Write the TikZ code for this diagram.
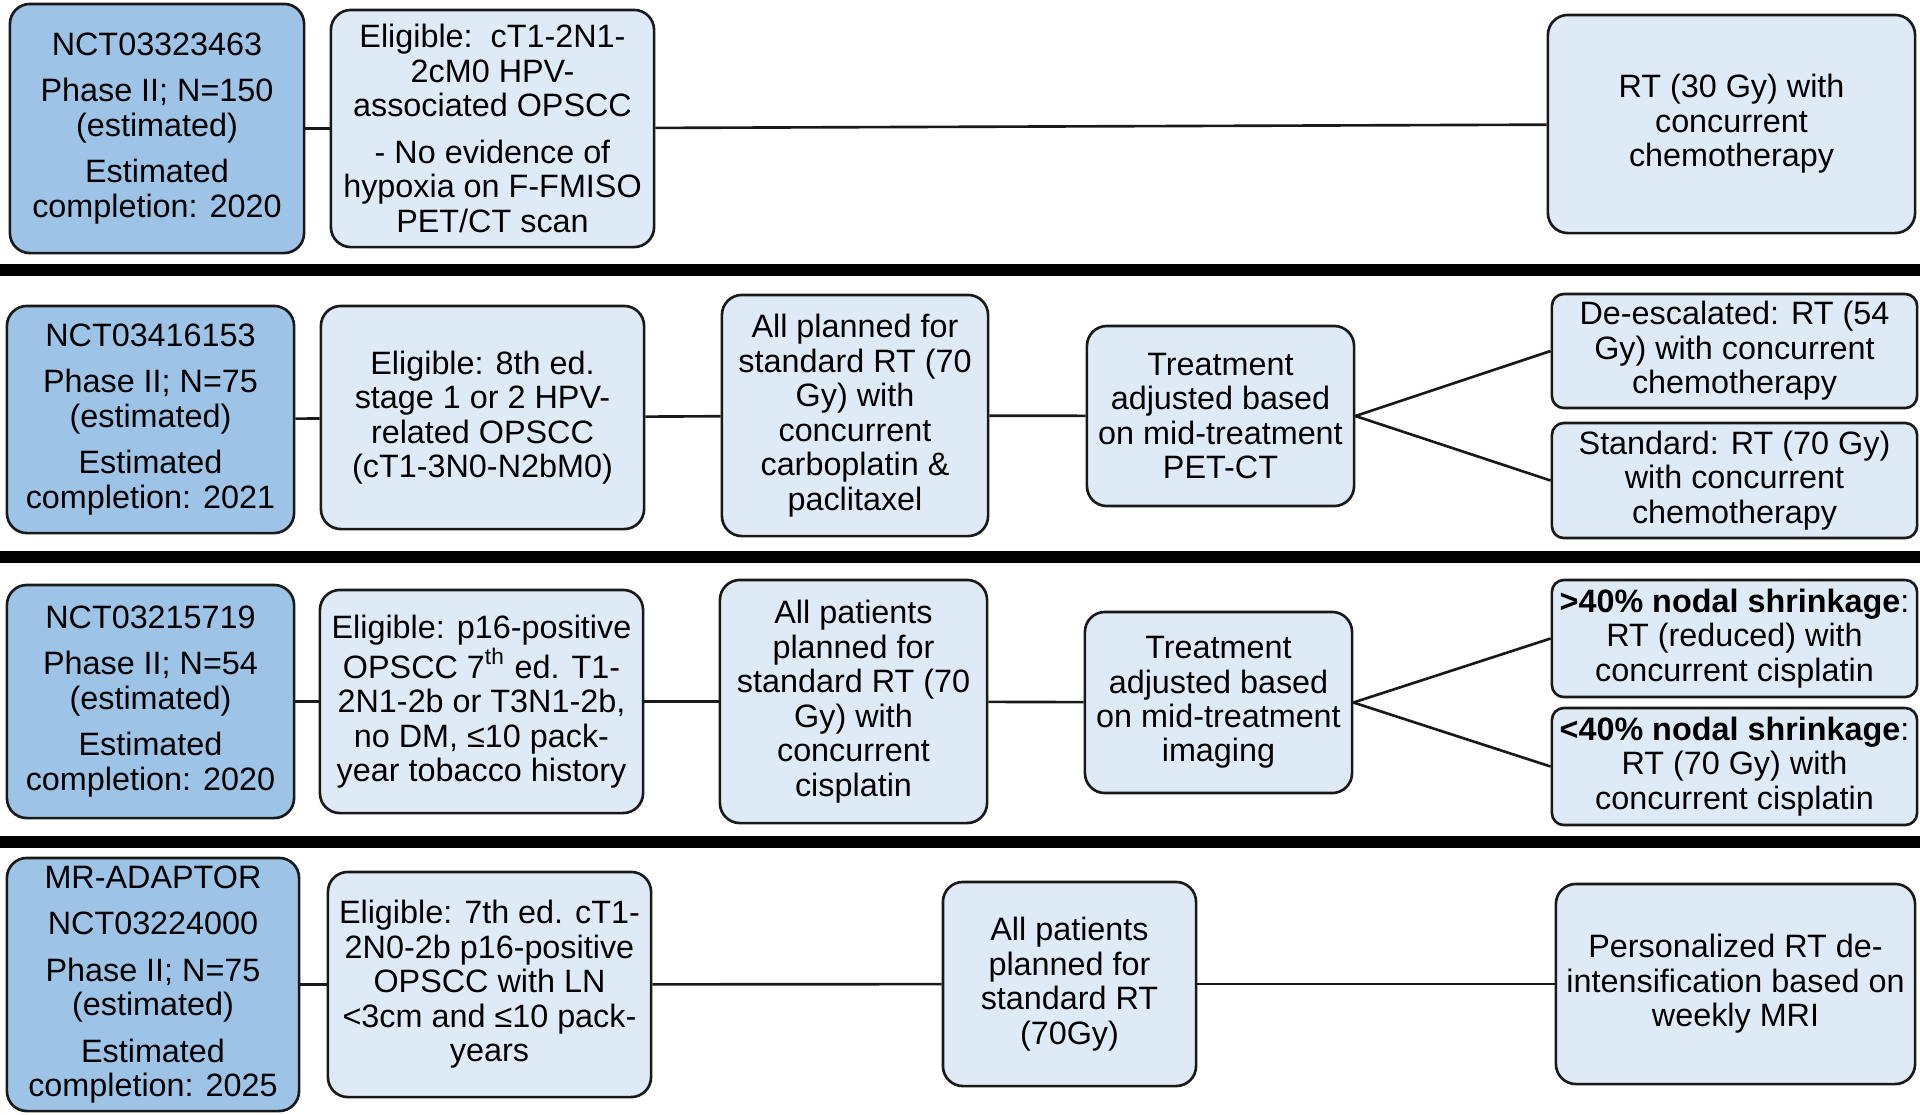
\documentclass[tikz,border=0pt]{standalone}
\usepackage{fontspec}
\setmainfont{Liberation Sans}
\definecolor{trialblue}{RGB}{157,195,230}
\definecolor{armblue}{RGB}{222,235,247}

\begin{document}
\begin{tikzpicture}[x=0.01cm, y=-0.01cm,
    every node/.style={draw=black!90, line width=0.75pt, rounded corners=0.2cm, align=center,
        inner sep=2pt, text=black, font=\fontsize{9.2}{9.8}\selectfont},
    boxsize/.style 2 args={minimum width=#1cm, minimum height=#2cm},
    trial/.style={fill=trialblue},
    arm/.style={fill=armblue},
    outcome/.style={fill=armblue, rounded corners=0.12cm},
    link/.style={line width=0.75pt, black!90},
    sep/.style={line width=3.4pt, black}]
    \useasboundingbox (0,0) rectangle (1920,1114);

    % first trial
    \node[trial, boxsize={2.94}{2.49}] (A1) at (157,128.5) {NCT03323463\\[3.4pt] Phase II; N=150\\ (estimated)\\[3.4pt] Estimated\\ completion: 2020};
    \node[arm, boxsize={3.23}{2.37}] (B1) at (492.5,128.5) {Eligible:\ \ cT1-2N1-\\ 2cM0 HPV-\\ associated OPSCC\\[3.4pt] - No evidence of\\ hypoxia on F-FMISO\\ PET/CT scan};
    \node[arm, boxsize={3.67}{2.18}] (D1) at (1731.5,124) {RT (30 Gy) with\\ concurrent\\ chemotherapy};
    \draw[link] (A1) -- (B1);
    \draw[link] (B1) -- (D1);
    \draw[sep] (0,270) -- (1920,270);

    % second trial
    \node[trial, boxsize={2.87}{2.27}] (A2) at (150.5,419.5) {NCT03416153\\[3.4pt] Phase II; N=75\\ (estimated)\\[3.4pt] Estimated\\ completion: 2021};
    \node[arm, boxsize={3.23}{2.23}] (B2) at (482.5,417.5) {Eligible: 8th ed.\\ stage 1 or 2 HPV-\\ related OPSCC\\ (cT1-3N0-N2bM0)};
    \node[arm, boxsize={2.66}{2.41}] (C2) at (855,415.5) {All planned for\\ standard RT (70\\ Gy) with\\ concurrent\\ carboplatin \&\\ paclitaxel};
    \node[arm, boxsize={2.67}{1.80}] (D2) at (1220.5,416) {Treatment\\ adjusted based\\ on mid-treatment\\ PET-CT};
    \node[outcome, boxsize={3.65}{1.14}] (E2a) at (1734.5,351) {De-escalated: RT (54\\ Gy) with concurrent\\ chemotherapy};
    \node[outcome, boxsize={3.65}{1.15}] (E2b) at (1734.5,480.5) {Standard: RT (70 Gy)\\ with concurrent\\ chemotherapy};
    \draw[link] (A2) -- (B2);
    \draw[link] (B2) -- (C2);
    \draw[link] (C2) -- (D2);
    \draw[link] (D2.east) -- (E2a.west);
    \draw[link] (D2.east) -- (E2b.west);
    \draw[sep] (0,557) -- (1920,557);

    % third trial
    \node[trial, boxsize={2.87}{2.33}] (A3) at (150.5,701.5) {NCT03215719\\[3.4pt] Phase II; N=54\\ (estimated)\\[3.4pt] Estimated\\ completion: 2020};
    \node[arm, boxsize={3.23}{2.23}] (B3) at (481.5,701.5) {Eligible: p16-positive\\ OPSCC 7\textsuperscript{th} ed. T1-\\ 2N1-2b or T3N1-2b,\\ no DM, ≤10 pack-\\ year tobacco history};
    \node[arm, boxsize={2.67}{2.43}] (C3) at (853.5,701.5) {All patients\\ planned for\\ standard RT (70\\ Gy) with\\ concurrent\\ cisplatin};
    \node[arm, boxsize={2.67}{1.81}] (D3) at (1218.5,702.5) {Treatment\\ adjusted based\\ on mid-treatment\\ imaging};
    \node[outcome, boxsize={3.65}{1.17}] (E3a) at (1734.5,638.5) {\textbf{>40\% nodal shrinkage}:\\ RT (reduced) with\\ concurrent cisplatin};
    \node[outcome, boxsize={3.65}{1.17}] (E3b) at (1734.5,766.5) {\textbf{<40\% nodal shrinkage}:\\ RT (70 Gy) with\\ concurrent cisplatin};
    \draw[link] (A3) -- (B3);
    \draw[link] (B3) -- (C3);
    \draw[link] (C3) -- (D3);
    \draw[link] (D3.east) -- (E3a.west);
    \draw[link] (D3.east) -- (E3b.west);
    \draw[sep] (0,842) -- (1920,842);

    % fourth trial
    \node[trial, boxsize={2.92}{2.53}] (A4) at (153,984.5) {MR-ADAPTOR\\[3.4pt] NCT03224000\\[3.4pt] Phase II; N=75\\ (estimated)\\[3.4pt] Estimated\\ completion: 2025};
    \node[arm, boxsize={3.23}{2.25}] (B4) at (489.5,984.5) {Eligible: 7th ed. cT1-\\ 2N0-2b p16-positive\\ OPSCC with LN\\ <3cm and ≤10 pack-\\ years};
    \node[arm, boxsize={2.53}{2.04}] (C4) at (1069.5,984) {All patients\\ planned for\\ standard RT\\ (70Gy)};
    \node[arm, boxsize={3.59}{2.00}] (D4) at (1735.5,984) {Personalized RT de-\\ intensification based on\\ weekly MRI};
    \draw[link] (A4) -- (B4);
    \draw[link] (B4) -- (C4);
    \draw[link] (C4) -- (D4);
\end{tikzpicture}
\end{document}
